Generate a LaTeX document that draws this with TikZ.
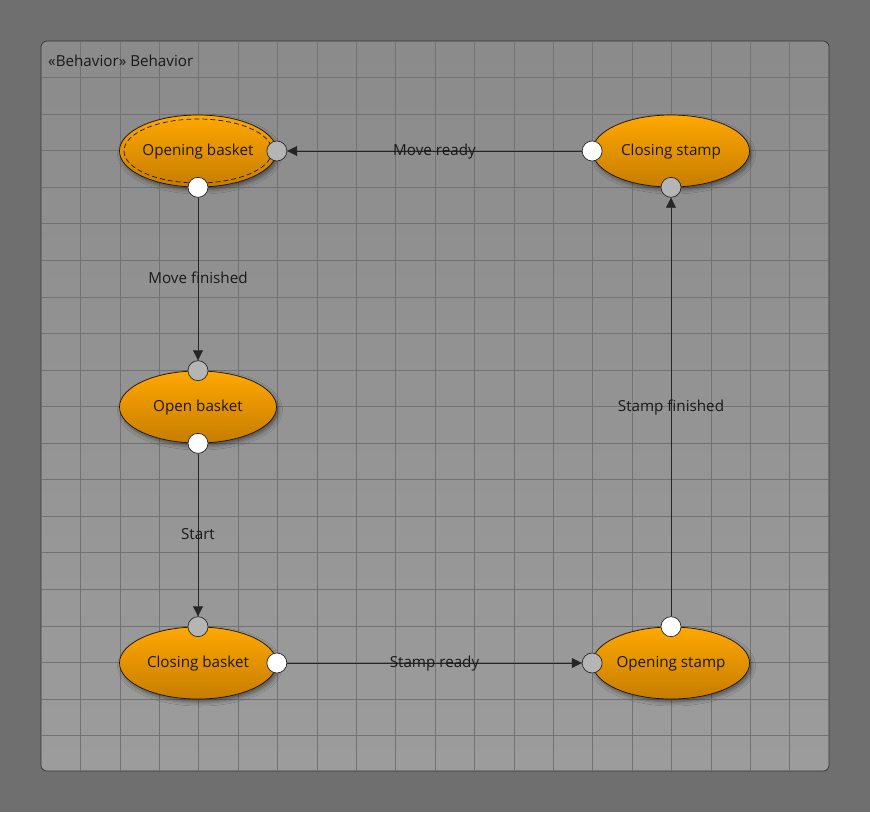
\documentclass[tikz,border=0pt]{standalone}
\usepackage{fontspec}
\setmainfont{Open Sans}
\usetikzlibrary{shapes.geometric,shadows.blur,arrows.meta}
\definecolor{bgouter}{HTML}{6F6F6F}
\definecolor{frametop}{HTML}{8B8B8B}
\definecolor{framebot}{HTML}{9C9C9C}
\definecolor{gridline}{HTML}{727272}
\definecolor{statetop}{HTML}{FFA800}
\definecolor{statebot}{HTML}{C67C00}
\definecolor{portgrey}{HTML}{B5B5B5}
\begin{document}
\begin{tikzpicture}[x=1pt, y=-1pt,
    state/.style={ellipse, draw=black!85!brown, line width=0.7pt, minimum width=157pt, minimum height=72pt,
        top color=statetop, bottom color=statebot, font=\fontsize{15.2}{17}\selectfont, text=black!90, inner sep=0pt,
        text height=0.88em, text depth=0pt,
        blur shadow={shadow xshift=2pt, shadow yshift=-3pt, shadow blur radius=4pt, shadow opacity=45}},
    inport/.style={circle, draw=black!85, line width=0.7pt, fill=portgrey, minimum size=20pt, inner sep=0pt},
    outport/.style={inport, fill=white},
    trans/.style={-{Triangle[length=10pt, width=10pt]}, line width=0.6pt, black!85},
    translabel/.style={midway, inner sep=0pt, font=\fontsize{15.2}{17}\selectfont, text=black!90,
        text height=0.88em, text depth=0pt}]
    \useasboundingbox (0,0) rectangle (870,812);
    \fill[bgouter] (0,0) rectangle (870,812);
    \draw[black!80, line width=0.7pt, rounded corners=6pt, top color=frametop, bottom color=framebot] (41,41) rectangle (829,771);
    \begin{scope}
        \clip (41.5,41.5) rectangle (828.5,770.5);
        \foreach \i in {1,...,19} {
            \draw[gridline, line width=0.6pt] ({41+39.4*\i},41) -- ({41+39.4*\i},771);
            \draw[gridline, line width=0.6pt] (41,{41+36.55*\i}) -- (829,{41+36.55*\i});
        }
    \end{scope}
    \node[anchor=west, inner sep=0pt, font=\fontsize{15.2}{17}\selectfont, text=black!90] (title) at (48,61) {«Behavior» Behavior};

    \node[state] (openingbasket) at (198,151) {Opening basket};
    \draw[black!90, line width=0.7pt, dash pattern=on 5pt off 3pt] (openingbasket.center) ellipse [x radius=74, y radius=32];
    \node[state] (closingstamp) at (671,151) {Closing stamp};
    \node[state] (openbasket) at (198,407) {Open basket};
    \node[state] (closingbasket) at (198,663) {Closing basket};
    \node[state] (openingstamp) at (671,663) {Opening stamp};

    \node[inport] (openingbasket-in) at (openingbasket.east) {};
    \node[outport] (openingbasket-out) at (openingbasket.south) {};
    \node[outport] (closingstamp-out) at (closingstamp.west) {};
    \node[inport] (closingstamp-in) at (closingstamp.south) {};
    \node[inport] (openbasket-in) at (openbasket.north) {};
    \node[outport] (openbasket-out) at (openbasket.south) {};
    \node[inport] (closingbasket-in) at (closingbasket.north) {};
    \node[outport] (closingbasket-out) at (closingbasket.east) {};
    \node[inport] (openingstamp-in) at (openingstamp.west) {};
    \node[outport] (openingstamp-out) at (openingstamp.north) {};

    \draw[trans] (closingstamp-out) -- (openingbasket-in) node[translabel] {Move ready};
    \draw[trans] (openingbasket-out) -- (openbasket-in) node[translabel] {Move finished};
    \draw[trans] (openbasket-out) -- (closingbasket-in) node[translabel] {Start};
    \draw[trans] (closingbasket-out) -- (openingstamp-in) node[translabel] {Stamp ready};
    \draw[trans] (openingstamp-out) -- (closingstamp-in) node[translabel] {Stamp finished};
\end{tikzpicture}
\end{document}
